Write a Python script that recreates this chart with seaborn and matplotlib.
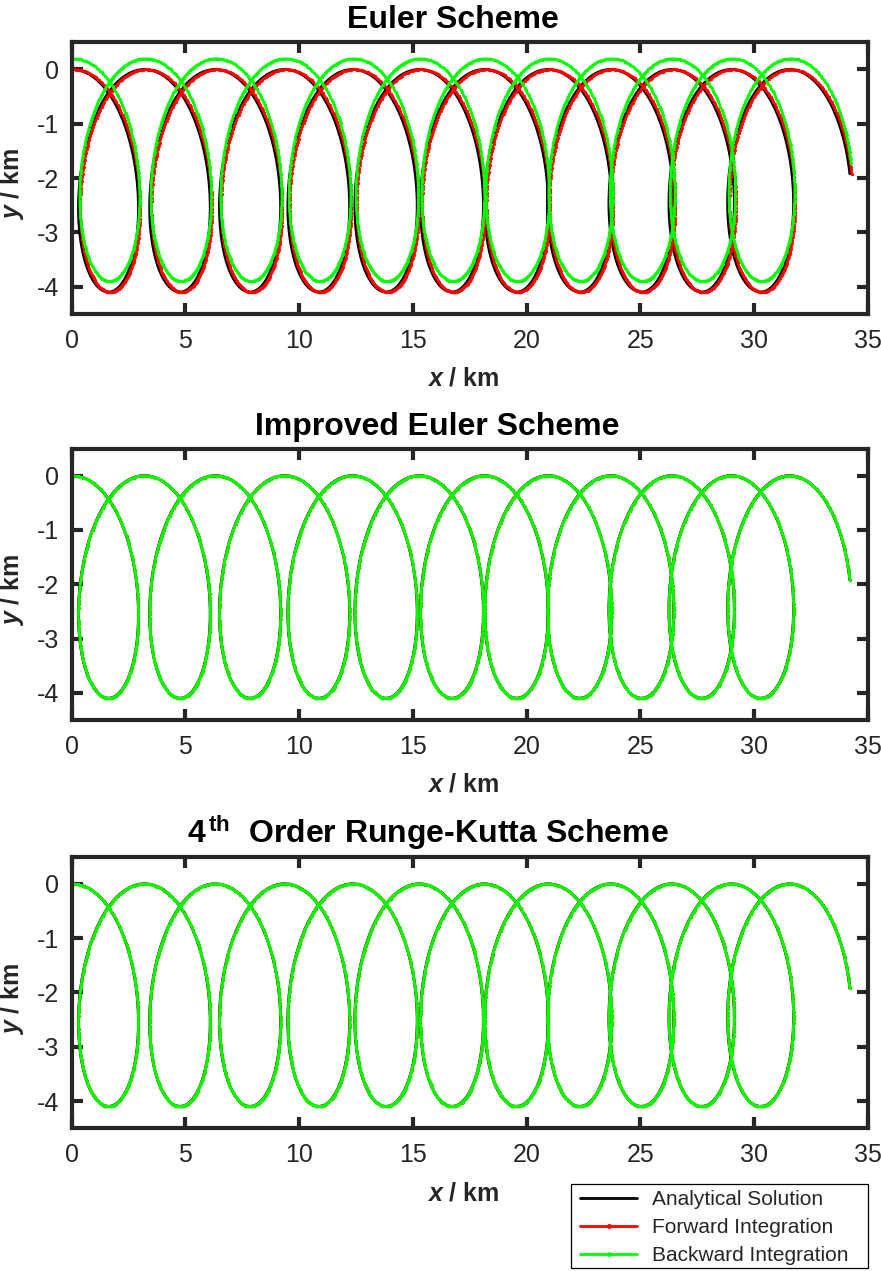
import matplotlib
matplotlib.use('Agg')
import matplotlib.pyplot as plt
from matplotlib.lines import Line2D
from matplotlib.patches import Rectangle
import numpy as np
import seaborn as sns

# values (km)
# x of each loop top (y = 0), starting point included
loop_top_x = [0, 3.23, 6.28, 9.37, 12.37, 15.30, 18.15, 20.94, 23.67, 26.36, 29.0, 31.59]
loop_depth = 4.1          # y of the loop bottoms is -4.1
n_loops = 11.24           # trajectory ends at (34.2, -1.97)
pts_per_loop = 200

schemes = ['Euler Scheme', 'Improved Euler Scheme', r'$\mathbf{4^{\,th}}$  Order Runge-Kutta Scheme']
title_center_px = [452.5, 437.5, 428]     # MATLAB titles sit a little left of centre
# (dx, dy) of the numerical solutions relative to the analytical one
forward_offset = [(0.08, 0.0), (0.0, 0.0), (0.0, 0.0)]
backward_offset = [(0.05, 0.20), (0.0, 0.0), (0.0, 0.0)]

legend_labels = ['Analytical Solution', 'Forward Integration', 'Backward Integration']
line_colors = ['#000000', '#ff0000', '#00ff00']

x_ticks = [0, 5, 10, 15, 20, 25, 30, 35]
y_ticks = [-4, -3, -2, -1, 0]

# analytical trajectory: drifting inertial loops
r = loop_depth / 2
k = np.arange(len(loop_top_x))
drift = np.polyfit(k, loop_top_x, 2)          # drift of the loop tops vs loop number
phase = np.linspace(0, n_loops, int(n_loops * pts_per_loop))
theta = 2 * np.pi * phase
x_ana = np.polyval(drift, phase) + r * np.sin(theta)
y_ana = -r * (1 - np.cos(theta))

sns.set_style('ticks')
plt.rcParams['font.family'] = ['Liberation Sans', 'DejaVu Sans']
plt.rcParams['mathtext.fontset'] = 'custom'
plt.rcParams['mathtext.rm'] = 'Liberation Sans'
plt.rcParams['mathtext.bf'] = 'Liberation Sans:bold'
plt.rcParams['mathtext.it'] = 'Liberation Sans:italic:bold'
plt.rcParams['axes.unicode_minus'] = False

W, H = 881, 1271
fig = plt.figure(figsize=(W / 100, H / 100), dpi=100)
dark = '#262626'
tops = [42.3, 448.5, 856.7]
left_px, right_px, height_px = 71.7, 867.7, 271.5
width_px = right_px - left_px

for i, title in enumerate(schemes):
    ax = fig.add_axes([left_px / W, 1 - (tops[i] + height_px) / H,
                       width_px / W, height_px / H])
    sns.lineplot(x=x_ana, y=y_ana, sort=False, estimator=None, color=line_colors[0],
                 lw=2.0, ax=ax)
    fx, fy = forward_offset[i]
    sns.lineplot(x=x_ana + fx, y=y_ana + fy, sort=False, estimator=None, color=line_colors[1],
                 lw=1.6, marker='.', ms=4, markeredgecolor=line_colors[1], markeredgewidth=0.4, ax=ax)
    bx, by = backward_offset[i]
    sns.lineplot(x=x_ana + bx, y=y_ana + by, sort=False, estimator=None, color=line_colors[2],
                 lw=1.6, marker='.', ms=4, markeredgecolor=line_colors[2], markeredgewidth=0.4, ax=ax)

    ax.set_xlim(0, 35)
    ax.set_ylim(-4.5, 0.5)
    ax.set_xticks(x_ticks)
    ax.set_yticks(y_ticks)
    ax.set_xticklabels([str(t) for t in x_ticks])
    ax.set_yticklabels([str(t) for t in y_ticks])
    ax.tick_params(direction='in', length=8, width=3, color=dark, labelcolor=dark,
                   labelsize=18, top=True, right=True)
    ax.tick_params(axis='x', pad=11)
    ax.tick_params(axis='y', pad=9)
    for sp in ax.spines.values():
        sp.set_visible(True)
        sp.set_linewidth(3)
        sp.set_color(dark)
    ax.set_xlabel(r'$x$ / km', fontsize=18, fontweight='bold', color=dark)
    ax.set_ylabel(r'$y$ / km', fontsize=18, fontweight='bold', color=dark)
    ax.xaxis.set_label_coords((463 - left_px) / width_px, -0.195)
    ax.yaxis.set_label_coords((26 - left_px) / width_px, 0.478)
    ax.set_title(title, fontsize=23, fontweight='bold', color='black', pad=10,
                 x=(title_center_px[i] - left_px) / width_px)

handles = [
    Line2D([], [], color=line_colors[0], lw=2.0),
    Line2D([], [], color=line_colors[1], lw=2.0, marker='.', ms=5),
    Line2D([], [], color=line_colors[2], lw=2.0, marker='.', ms=5),
]
leg = fig.legend(handles, legend_labels, loc='upper left',
                 bbox_to_anchor=(580 / W, 1 - 1190 / H), borderaxespad=0,
                 fontsize=15, frameon=False, handlelength=2.75, handletextpad=0.7,
                 labelspacing=0.44, borderpad=0, numpoints=1)
fig.patches.append(Rectangle((570.7 / W, 1 - 1268 / H), (868 - 570.7) / W, 84 / H,
                             transform=fig.transFigure, fill=False,
                             edgecolor='black', lw=0.9))

fig.savefig('out.png', dpi=100)
